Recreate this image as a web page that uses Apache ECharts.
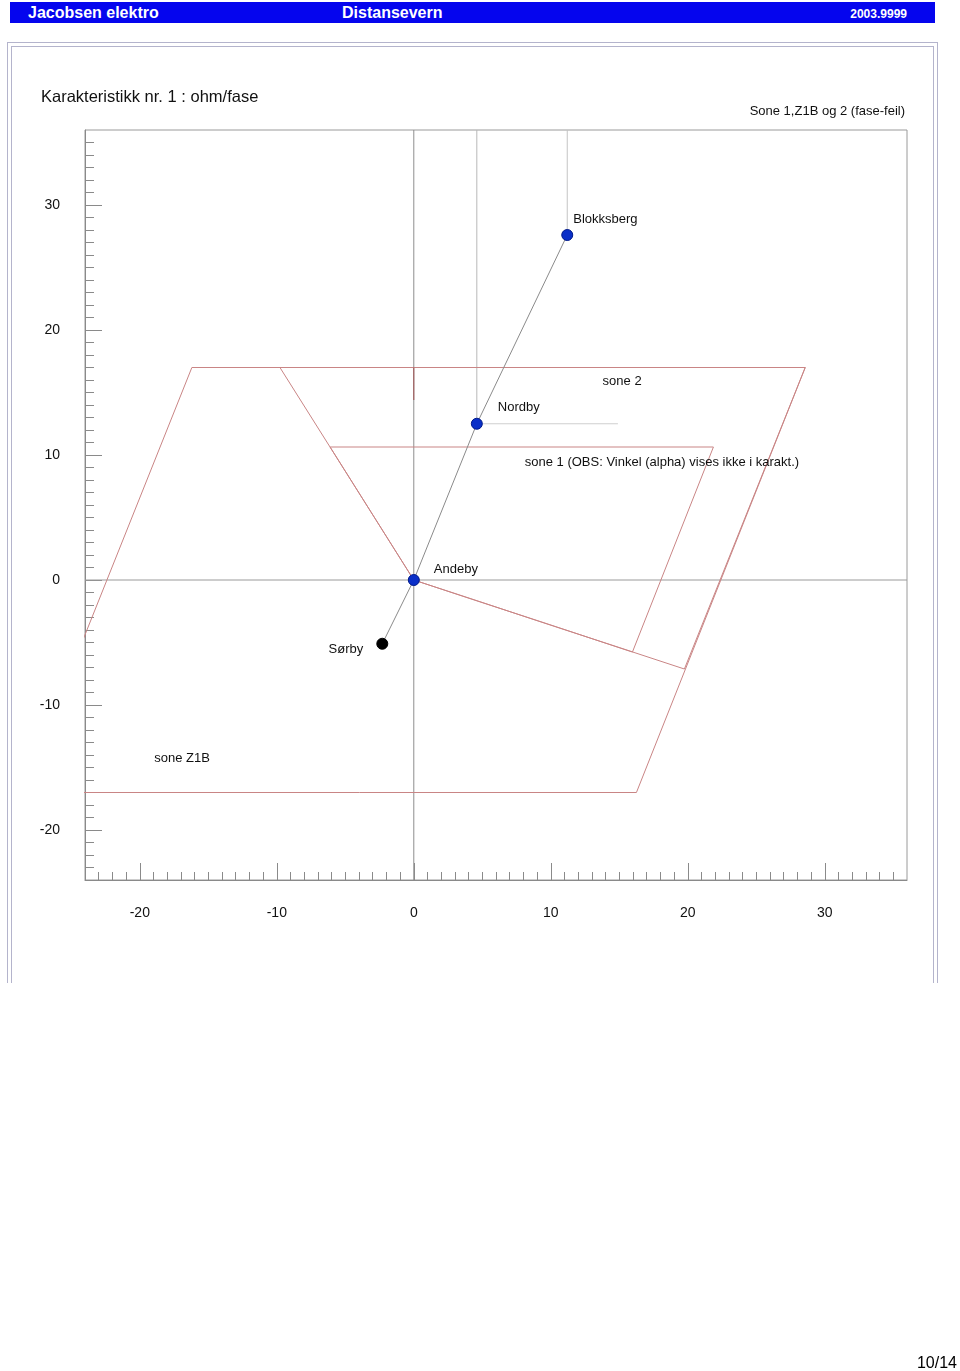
<!DOCTYPE html>
<html>
<head>
<meta charset="utf-8">
<script src="https://cdn.jsdelivr.net/npm/echarts@6/dist/echarts.min.js"></script>
<style>
  html, body { margin: 0; padding: 0; background: #fff; }
  body { width: 960px; height: 1371px; position: relative; overflow: hidden; font-family: "Liberation Sans", Arial, sans-serif; }
  #hdr { position: absolute; left: 10px; top: 2px; width: 925px; height: 21px; background: #0505ee; color: #fff; font-weight: bold; }
  #hdr span { position: absolute; top: 2px; font-size: 16px; line-height: 18px; }
  #frameO { position: absolute; left: 7px; top: 42px; width: 929px; height: 940px; border: 1px solid #b4b4cc; border-bottom: none; }
  #frameI { position: absolute; left: 11px; top: 46px; width: 921px; height: 936px; border: 1px solid #b4b4cc; border-bottom: none; }
  #chart { position: absolute; left: 0; top: 0; width: 960px; height: 1371px; }
  #page { position: absolute; right: 3px; top: 1354px; font-size: 16px; color: #000; }
</style>
</head>
<body>
<div id="hdr">
  <span style="left:18px">Jacobsen elektro</span>
  <span style="left:332px">Distansevern</span>
  <span style="right:28px; font-size:12px; top:3px">2003.9999</span>
</div>
<div id="frameO"></div>
<div id="frameI"></div>
<div id="chart"></div>
<div id="page">10/14</div>
<script>
// ---- data ----
const axisMin = -24, axisMax = 36;
const xTickLabels = [-20, -10, 0, 10, 20, 30];
const yTickLabels = [-20, -10, 0, 10, 20, 30];

const stations  = ['Sørby', 'Andeby', 'Nordby', 'Blokksberg'];
const stationR  = [-2.3, 0, 4.6, 11.2];
const stationX  = [-5.1, 0, 12.5, 27.6];

const zoneZ1B_R = [28.57, -16.2, -28.6, 16.25, 28.57];
const zoneZ1B_X = [17, 17, -17, -17, 17];
const zone2_R   = [0, -9.77, 28.57, 19.75, 0];
const zone2_X   = [0, 17, 17, -7.12, 0];
const zone1_R   = [0, -6.11, 21.87, 15.96, 0];
const zone1_X   = [0, 10.64, 10.64, -5.76, 0];
const markR     = [0, 0];
const markX     = [17, 14.4];

const zoneNames = ['sone 2', 'sone 1 (OBS: Vinkel (alpha) vises ikke i karakt.)', 'sone Z1B'];
const zoneLabelR = [13.78, 8.1, -18.95];
const zoneLabelX = [15.9, 9.44, -14.24];

// helper lines
const nordbyVert_R = [4.6, 4.6],   nordbyVert_X = [36, 12.5];
const blokkVert_R  = [11.2, 11.2], blokkVert_X  = [36, 27.6];
const nordbyHor_R  = [4.6, 14.9],  nordbyHor_X  = [12.5, 12.5];

// ---- build ----
const pairs = (a, b) => a.map((v, i) => [v, b[i]]);
const minorTicks = [];
for (let v = axisMin + 1; v < axisMax; v++) minorTicks.push(v);

const FONT = '"Liberation Sans", Arial, sans-serif';
const zoneColor = '#c98585';
const lineSeries = (data, color, z) => ({
  type: 'line', data, showSymbol: false, symbol: 'none', clip: true, silent: true,
  lineStyle: { color, width: 1 }, z: z || 2, animation: false
});

const stationColors = ['#000000', '#0a2fc8', '#0a2fc8', '#0a2fc8'];
const stationLabelPos = ['left', 'right', 'right', 'right'];
const stationLabelOff = [[-8, 6], [9, -11], [10, -16], [-5, -16]];

const stationData = stations.map((n, i) => ({
  name: n, value: [stationR[i], stationX[i]],
  itemStyle: { color: stationColors[i], borderColor: i === 0 ? '#000' : '#001a8a', borderWidth: 1 },
  label: { show: true, position: stationLabelPos[i], offset: stationLabelOff[i], formatter: n }
}));

const chart = echarts.init(document.getElementById('chart'), null, { renderer: 'canvas' });

const axisCommon = {
  type: 'value', min: axisMin, max: axisMax, splitLine: { show: false }
};

chart.setOption({
  animation: false,
  textStyle: { fontFamily: FONT },
  title: [
    { text: 'Karakteristikk nr. 1 : ohm/fase', left: 36, top: 84,
      textStyle: { fontSize: 16.5, fontWeight: 'normal', color: '#111', fontFamily: FONT } },
    { text: 'Sone 1,Z1B og 2 (fase-feil)', right: 50, top: 100,
      textStyle: { fontSize: 13, fontWeight: 'normal', color: '#111', fontFamily: FONT } }
  ],
  grid: { left: 85, top: 130, width: 822, height: 750, show: true, borderColor: '#9a9a9a', borderWidth: 1, backgroundColor: 'transparent' },
  xAxis: [
    Object.assign({}, axisCommon, {
      position: 'bottom',
      axisLine: { show: true, onZero: false, lineStyle: { color: '#8a8a8a' } },
      axisTick: { show: true, inside: true, length: 8, customValues: minorTicks, lineStyle: { color: '#8a8a8a' } },
      axisLabel: { show: true, customValues: xTickLabels, margin: 26, fontSize: 14, color: '#111', fontFamily: FONT }
    }),
    Object.assign({}, axisCommon, {
      position: 'bottom',
      axisLine: { show: false, onZero: false },
      axisTick: { show: true, inside: true, length: 17, customValues: xTickLabels, lineStyle: { color: '#8a8a8a' } },
      axisLabel: { show: false }
    })
  ],
  yAxis: [
    Object.assign({}, axisCommon, {
      position: 'left',
      axisLine: { show: true, onZero: false, lineStyle: { color: '#8a8a8a' } },
      axisTick: { show: true, inside: true, length: 9, customValues: minorTicks, lineStyle: { color: '#8a8a8a' } },
      axisLabel: { show: true, customValues: yTickLabels, margin: 25, fontSize: 14, color: '#111', fontFamily: FONT }
    }),
    Object.assign({}, axisCommon, {
      position: 'left',
      axisLine: { show: false, onZero: false },
      axisTick: { show: true, inside: true, length: 17, customValues: yTickLabels, lineStyle: { color: '#8a8a8a' } },
      axisLabel: { show: false }
    })
  ],
  series: [
    lineSeries([[0, axisMin], [0, axisMax]], '#8e8e8e', 1),
    lineSeries([[axisMin, 0], [axisMax, 0]], '#9a9a9a', 1),
    lineSeries(pairs(nordbyVert_R, nordbyVert_X), '#b8b8b8', 1),
    lineSeries(pairs(blokkVert_R, blokkVert_X), '#c4c4c4', 1),
    lineSeries(pairs(nordbyHor_R, nordbyHor_X), '#cfcfcf', 1),
    lineSeries(pairs(zoneZ1B_R, zoneZ1B_X), zoneColor, 2),
    lineSeries(pairs(zone2_R, zone2_X), zoneColor, 2),
    lineSeries(pairs(zone1_R, zone1_X), zoneColor, 2),
    lineSeries(pairs(markR, markX), '#a05050', 2),
    {
      type: 'line', data: stationData, symbol: 'circle', symbolSize: 11, showSymbol: true,
      lineStyle: { color: '#8a8a8a', width: 1 }, z: 5, animation: false,
      label: { fontSize: 13, color: '#111', fontFamily: FONT, distance: 5 }
    },
    {
      type: 'scatter', symbolSize: 0, z: 6, animation: false, silent: true,
      itemStyle: { opacity: 1 },
      data: zoneNames.map((n, i) => ({ name: n, value: [zoneLabelR[i], zoneLabelX[i]] })),
      label: { show: true, position: 'right', distance: 0, formatter: p => p.name, fontSize: 13, color: '#111', fontFamily: FONT }
    }
  ]
});
</script>
</body>
</html>
